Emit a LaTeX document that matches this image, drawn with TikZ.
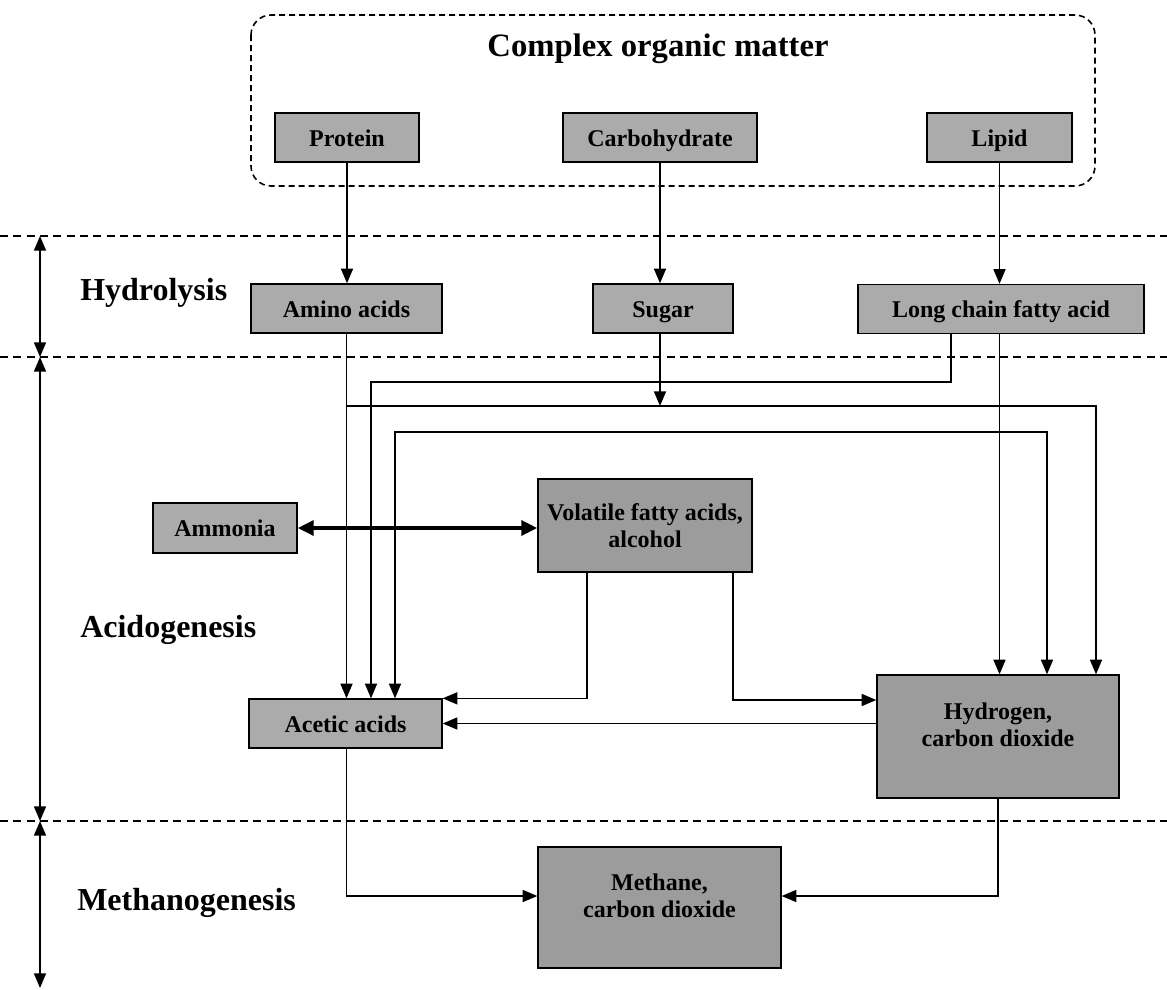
\documentclass[tikz,border=0pt]{standalone}
\usepackage{fontspec}
\setmainfont{Liberation Serif}
\usetikzlibrary{arrows.meta}
\definecolor{boxgray}{gray}{0.67}
\definecolor{boxdark}{gray}{0.61}

\begin{document}
\begin{tikzpicture}[x=0.75pt, y=-0.75pt,
        shaded/.style={draw=black, line width=1pt, fill=boxgray, inner sep=0pt, align=center,
                    font=\fontsize{18}{20.5}\selectfont\bfseries},
        box/.style={shaded, minimum height=36.75pt, text height=13pt, text depth=0pt},
        bigbox/.style={shaded, fill=boxdark, text depth=18pt},
        flow/.style={line width=1.2pt, -{Triangle[length=11pt,width=9pt]}},
        both/.style={line width=1.2pt, {Triangle[length=11pt,width=9pt]}-{Triangle[length=11pt,width=9pt]}},
        thickboth/.style={line width=3pt, {Triangle[length=12pt,width=11pt]}-{Triangle[length=12pt,width=11pt]}},
        stage/.style={anchor=base west, inner sep=0pt, font=\fontsize{24}{28}\selectfont\bfseries},
        sep/.style={line width=1.4pt, dash pattern=on 6pt off 4pt}
      ]
  \useasboundingbox (0,0) rectangle (1167,989);

        % complex organic matter
        \draw[line width=1.2pt, dash pattern=on 4.5pt off 3pt, rounded corners=15pt] (251,15) rectangle (1095,186);
        \node[font=\fontsize{24.5}{28}\selectfont\bfseries, anchor=base] (com) at (658,56) {Complex organic matter};
        \node[box, minimum width=108pt] (protein) at (347,137.5) {Protein};
        \node[box, minimum width=145.5pt] (carbo) at (660,137.5) {Carbohydrate};
        \node[box, minimum width=108.75pt] (lipid) at (999.5,137.5) {Lipid};

        % stages
        \foreach \y in {236,357,821}
          \draw[sep] (0,\y) -- (1167,\y);
        \foreach \a/\b in {236/357,357/821,821/988}
          \draw[both] (40,\a) -- (40,\b);
        \node[stage] (hyd) at (80,300) {Hydrolysis};
        \node[stage] (acid) at (80,637) {Acidogenesis};
        \node[stage] (meth) at (77,910) {Methanogenesis};

        \node[box, minimum width=143.25pt] (amino) at (346.5,308.5) {Amino acids};
        \node[box, minimum width=105pt] (sugar) at (663,308.5) {Sugar};
        \node[box, minimum width=214.5pt] (lcfa) at (1001,309) {Long chain fatty acid};
        \node[box, minimum width=108pt, minimum height=37.5pt] (ammonia) at (225,528) {Ammonia};
        \node[shaded, fill=boxdark, minimum width=160.5pt, minimum height=69.75pt] (vfa) at (645,525.5) {Volatile fatty acids,\\alcohol};
        \node[box, minimum width=144.75pt] (acetic) at (345.5,723.5) {Acetic acids};
        \node[bigbox, minimum width=181.5pt, minimum height=92.25pt] (hydro) at (998,736.5) {Hydrogen,\\carbon dioxide};
        \node[bigbox, minimum width=182.25pt, minimum height=90.75pt] (methane) at (659.5,907.5) {Methane,\\carbon dioxide};

        \draw[flow] (protein.south) -- (protein.south |- amino.north);
        \draw[flow] (carbo.south) -- (carbo.south |- sugar.north);
        \draw[flow] (lipid.south) -- (lipid.south |- lcfa.north);

        \draw[flow] (amino.south) -- (amino.south |- acetic.north);
        \draw[flow] (lcfa.south -| 951,0) |- (371,382) -- (371,0 |- acetic.north);
        \draw[flow] (lipid.south |- lcfa.south) -- (lipid.south |- hydro.north);
        \draw[flow] (amino.south |- 0,406) -| (1096,0 |- hydro.north);
        \draw[flow] (carbo.south |- sugar.south) -- (carbo.south |- 0,406);
        \draw[both] (395,0 |- acetic.north) |- (1047,432) -- (1047,0 |- hydro.north);

        \draw[thickboth] (ammonia.east) -- (ammonia.east -| vfa.west);
        \draw[flow] (vfa.south -| 587,0) |- (acetic.north east);
        \draw[flow] (vfa.south -| 733,0) |- (hydro.west |- 0,700);
        \draw[flow] (hydro.west |- acetic.east) -- (acetic.east);

        \draw[flow] (acetic.south -| amino.south) |- (methane.west |- 0,896);
        \draw[flow] (hydro.south) |- (methane.east |- 0,896);

      \end{tikzpicture}
\end{document}
